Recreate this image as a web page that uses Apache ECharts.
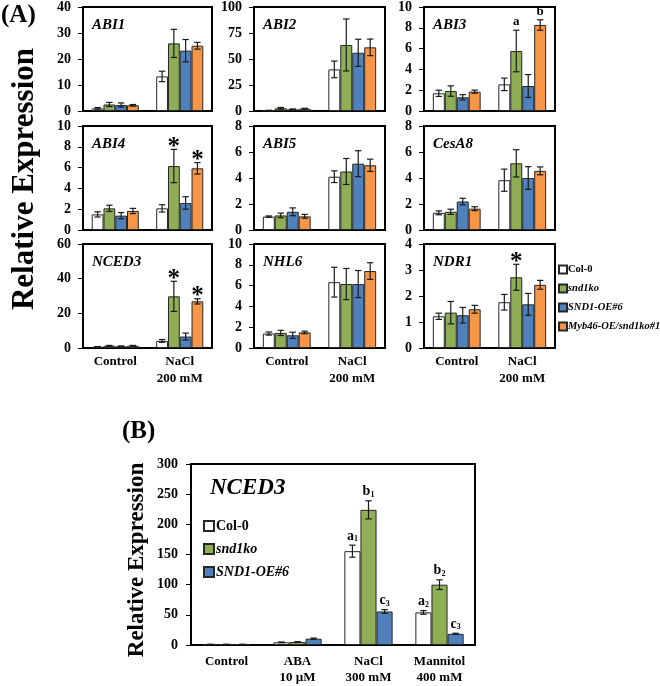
<!DOCTYPE html>
<html><head><meta charset="utf-8">
<script src="https://cdn.jsdelivr.net/npm/echarts/dist/echarts.min.js"></script>
<style>html,body{margin:0;padding:0;background:#fff}#c{width:660px;height:686px}</style>
</head><body><div id="c"></div>
<script>
// ---------- DATA ----------
const genotypesA = ['Col-0', 'snd1ko', 'SND1-OE#6', 'Myb46-OE/snd1ko#1'];
const conditionsA = ['Control', 'NaCl\n200 mM'];
const genesA = ['ABI1', 'ABI2', 'ABI3', 'ABI4', 'ABI5', 'CesA8', 'NCED3', 'NHL6', 'NDR1'];
const axisMaxA = [40, 100, 10, 10, 8, 8, 60, 10, 4];
const axisStepA = [10, 25, 2, 2, 2, 2, 20, 2, 1];

// rows = genotype, columns = condition (Control, NaCl)
const ABI1_mean = [[1.0, 13.3], [2.5, 26.0], [2.3, 23.2], [2.2, 25.1]];
const ABI1_err  = [[0.3, 2.0], [0.8, 5.4], [0.8, 4.3], [0.3, 1.3]];
const ABI2_mean = [[0.5, 40], [2.6, 63.5], [1.6, 56], [2.2, 61.2]];
const ABI2_err  = [[0.2, 8], [0.8, 25], [0.4, 13], [0.4, 8]];
const ABI3_mean = [[1.7, 2.56], [1.92, 5.77], [1.32, 2.4], [1.86, 8.27]];
const ABI3_err  = [[0.3, 0.6], [0.5, 2.0], [0.25, 1.1], [0.15, 0.5]];
const ABI4_mean = [[1.5, 2.08], [2.08, 6.15], [1.38, 2.6], [1.83, 5.93]];
const ABI4_err  = [[0.25, 0.35], [0.3, 1.6], [0.3, 0.6], [0.25, 0.55]];
const ABI5_mean = [[1.03, 4.1], [1.12, 4.5], [1.4, 5.1], [1.05, 4.98]];
const ABI5_err  = [[0.05, 0.45], [0.18, 1.0], [0.3, 1.0], [0.15, 0.47]];
const CesA8_mean = [[1.32, 3.83], [1.4, 5.13], [2.19, 4.0], [1.64, 4.55]];
const CesA8_err  = [[0.15, 0.85], [0.2, 1.05], [0.25, 0.87], [0.15, 0.3]];
const NCED3_mean = [[0.7, 4.1], [1.3, 29.8], [1.0, 6.6], [1.3, 26.9]];
const NCED3_err  = [[0.1, 0.8], [0.2, 8.7], [0.2, 2.0], [0.2, 1.5]];
const NHL6_mean = [[1.39, 6.33], [1.45, 6.15], [1.22, 6.15], [1.5, 7.4]];
const NHL6_err  = [[0.15, 1.43], [0.25, 1.5], [0.3, 1.3], [0.12, 0.8]];
const NDR1_mean = [[1.22, 1.76], [1.36, 2.72], [1.26, 1.68], [1.49, 2.43]];
const NDR1_err  = [[0.12, 0.3], [0.43, 0.5], [0.3, 0.42], [0.15, 0.17]];

const ABI3_marks  = [['', ''], ['', 'a'], ['', ''], ['', 'b']];
const ABI4_marks  = [['', ''], ['', '*'], ['', ''], ['', '*']];
const NCED3_marks = [['', ''], ['', '*'], ['', ''], ['', '*']];
const NDR1_marks  = [['', ''], ['', '*'], ['', ''], ['', '']];

const genotypesB = ['Col-0', 'snd1ko', 'SND1-OE#6'];
const treatmentsB = ['Control', 'ABA\n10 µM', 'NaCl\n300 mM', 'Mannitol\n400 mM'];
const geneB = 'NCED3';
const NCED3B_mean = [[1, 4.5, 155.5, 54], [1, 5, 224, 100], [1, 10.5, 55.5, 18.5]];
const NCED3B_err  = [[0.2, 0.5, 10, 3], [0.2, 0.5, 15, 8], [0.2, 1, 3, 1]];
const NCED3B_marks = [['', '', 'a1', 'a2'], ['', '', 'b1', 'b2'], ['', '', 'c3', 'c3']];
const yTicksB = { max: 300, step: 50 };

// ---------- BUILD ----------
const meansA = [ABI1_mean, ABI2_mean, ABI3_mean, ABI4_mean, ABI5_mean, CesA8_mean, NCED3_mean, NHL6_mean, NDR1_mean];
const errsA = [ABI1_err, ABI2_err, ABI3_err, ABI4_err, ABI5_err, CesA8_err, NCED3_err, NHL6_err, NDR1_err];
const marksA = [null, null, ABI3_marks, ABI4_marks, null, null, NCED3_marks, null, NDR1_marks];

const FONT = '"Liberation Serif", "Times New Roman", serif';
const colors = ['#ffffff', '#8FAE55', '#4F81BD', '#F79646'];
const colLeft = [83, 254, 424], colW = [129, 131, 131], rowTop = [7, 126, 244], rowH = 104;
const gapA = 0.27, gapB = 0.32;

const grids = [], xAxes = [], yAxes = [], series = [], titles = [];

function yAxisDef(i, max, step, fs, margin) {
  return {
    type: 'value', gridIndex: i, min: 0, max: max, interval: step,
    axisLine: { show: true, lineStyle: { color: '#000', width: 2 } },
    axisTick: { show: true, length: 5, lineStyle: { color: '#000', width: 1 } },
    splitLine: { show: false },
    axisLabel: { color: '#000', fontFamily: FONT, fontWeight: 'bold', fontSize: fs, margin: margin }
  };
}

function errSeries(i, means, errs, marks, n, gap, kind) {
  const data = [], labels = [];
  means.forEach((row, g) => row.forEach((m, c) => {
    data.push([c, m, errs[g][c], g]);
    labels.push(marks ? marks[g][c] : '');
  }));
  return {
    type: 'custom', xAxisIndex: i, yAxisIndex: i, silent: true, z: 10,
    encode: { x: 0, y: 1 }, data: data,
    renderItem: function (params, api) {
      const c = api.value(0), m = api.value(1), e = api.value(2), g = api.value(3);
      const base = api.coord([c, m]);
      const band = api.size([1, 0])[0];
      const bw = band * (1 - gap) / n;
      const x = base[0] + (g - (n - 1) / 2) * bw;
      const yt = api.coord([c, m + e])[1];
      const yb = api.coord([c, m - e])[1];
      const cap = 3.2;
      const ls = { stroke: '#1a1a1a', lineWidth: 1.2 };
      const ch = [
        { type: 'line', shape: { x1: x, y1: yt, x2: x, y2: yb }, style: ls },
        { type: 'line', shape: { x1: x - cap, y1: yt, x2: x + cap, y2: yt }, style: ls },
        { type: 'line', shape: { x1: x - cap, y1: yb, x2: x + cap, y2: yb }, style: ls }
      ];
      const lab = labels[params.dataIndex];
      if (lab) {
        if (lab === '*') {
          ch.push({ type: 'text', style: { text: '*', x: x, y: yt - 2, align: 'center', verticalAlign: 'middle',
            font: 'bold 25px ' + FONT, fill: '#000' } });
        } else if (kind === 'B') {
          ch.push({ type: 'text', style: { text: '{m|' + lab[0] + '}{s|' + lab.slice(1) + '}', x: x, y: yt - 2,
            align: 'center', verticalAlign: 'bottom', fill: '#000',
            rich: { m: { fontFamily: FONT, fontWeight: 'bold', fontSize: 14, fill: '#000' },
                    s: { fontFamily: FONT, fontWeight: 'bold', fontSize: 8, fill: '#000', verticalAlign: 'bottom', padding: [5, 0, 0, 0] } } } });
        } else {
          ch.push({ type: 'text', style: { text: lab, x: x, y: yt - 2, align: 'center', verticalAlign: 'bottom',
            font: 'bold 13px ' + FONT, fill: '#000' } });
        }
      }
      return { type: 'group', children: ch };
    }
  };
}

genesA.forEach((gene, i) => {
  const r = Math.floor(i / 3), c = i % 3;
  grids.push({ left: colLeft[c], top: rowTop[r], width: colW[c], height: rowH,
    show: true, borderColor: '#000', borderWidth: 2, backgroundColor: '#fff' });
  xAxes.push({
    type: 'category', gridIndex: i, data: conditionsA,
    axisLine: { show: true, lineStyle: { color: '#000', width: 2 } },
    axisTick: { show: false },
    axisLabel: { show: r === 2, color: '#000', fontFamily: FONT, fontWeight: 'bold', fontSize: 13, lineHeight: 17, margin: 5 }
  });
  yAxes.push(yAxisDef(i, axisMaxA[i], axisStepA[i], 14, 12));
  genotypesA.forEach((gt, g) => {
    series.push({
      type: 'bar', name: gt, xAxisIndex: i, yAxisIndex: i, silent: true,
      data: meansA[i][g].slice(),
      barGap: '0%', barCategoryGap: (gapA * 100) + '%',
      itemStyle: { color: colors[g], borderColor: '#262626', borderWidth: 1 }
    });
  });
  series.push(errSeries(i, meansA[i], errsA[i], marksA[i], 4, gapA, 'A'));
  titles.push({ text: gene, left: colLeft[c] + 9, top: rowTop[r] + 11, padding: 0,
    textStyle: { fontFamily: FONT, fontStyle: 'italic', fontWeight: 'bold', fontSize: 15, color: '#000' } });
});

// Panel B
const bi = genesA.length;
grids.push({ left: 191, top: 464, width: 284, height: 184, show: true, borderColor: '#000', borderWidth: 2, backgroundColor: '#fff' });
xAxes.push({
  type: 'category', gridIndex: bi, data: treatmentsB,
  axisLine: { show: true, lineStyle: { color: '#000', width: 2 } },
  axisTick: { show: false },
  axisLabel: { color: '#000', fontFamily: FONT, fontWeight: 'bold', fontSize: 13, lineHeight: 16, margin: 9 }
});
yAxes.push(yAxisDef(bi, yTicksB.max, yTicksB.step, 14, 13));
genotypesB.forEach((gt, g) => {
  series.push({
    type: 'bar', name: gt, xAxisIndex: bi, yAxisIndex: bi, silent: true,
    data: NCED3B_mean[g].slice(),
    barGap: '0%', barCategoryGap: (gapB * 100) + '%',
    itemStyle: { color: colors[g], borderColor: '#262626', borderWidth: 1 }
  });
});
series.push(errSeries(bi, NCED3B_mean, NCED3B_err, NCED3B_marks, 3, gapB, 'B'));
titles.push({ text: geneB, left: 210, top: 477, padding: 0,
  textStyle: { fontFamily: FONT, fontStyle: 'italic', fontWeight: 'bold', fontSize: 23, color: '#000' } });

const legendRich = (fs) => ({
  n: { fontFamily: FONT, fontWeight: 'bold', fontSize: fs, color: '#000' },
  i: { fontFamily: FONT, fontWeight: 'bold', fontStyle: 'italic', fontSize: fs, color: '#000' }
});
const legendFmt = (name) => name === 'Col-0' ? '{n|' + name + '}' : '{i|' + name + '}';

const option = {
  animation: false,
  backgroundColor: '#fff',
  title: titles,
  grid: grids, xAxis: xAxes, yAxis: yAxes, series: series,
  legend: [
    { data: genotypesA, orient: 'vertical', left: 558, top: 264, itemGap: 8, itemWidth: 8, itemHeight: 8,
      icon: 'rect', selectedMode: false, padding: 0, formatter: legendFmt,
      textStyle: { fontFamily: FONT, fontWeight: 'bold', fontSize: 10.5, color: '#000', padding: [0, 0, 0, -4], rich: legendRich(10.5) } },
    { data: genotypesB, orient: 'vertical', left: 203, top: 519, itemGap: 9, itemWidth: 10, itemHeight: 10,
      icon: 'rect', selectedMode: false, padding: 0, formatter: legendFmt,
      textStyle: { fontFamily: FONT, fontWeight: 'bold', fontSize: 14, color: '#000', padding: [0, 0, 0, -3], rich: legendRich(14) } }
  ],
  graphic: [
    { type: 'text', left: 1, top: 3, style: { text: '(A)', font: 'bold 25px ' + FONT, fill: '#000' } },
    { type: 'text', left: 122, top: 419, style: { text: '(B)', font: 'bold 25px ' + FONT, fill: '#000' } },
    { type: 'text', x: 25, y: 179, rotation: Math.PI / 2,
      style: { text: 'Relative Expression', font: 'bold 31px ' + FONT, fill: '#000', align: 'center', verticalAlign: 'middle' } },
    { type: 'text', x: 137, y: 560, rotation: Math.PI / 2,
      style: { text: 'Relative Expression', font: 'bold 23px ' + FONT, fill: '#000', align: 'center', verticalAlign: 'middle' } }
  ]
};

const chart = echarts.init(document.getElementById('c'), null, { renderer: 'canvas' });
chart.setOption(option);
</script>
</body></html>
